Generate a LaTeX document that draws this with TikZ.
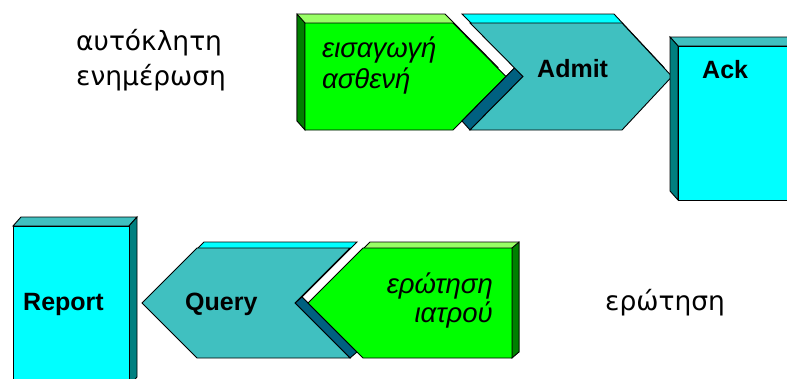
\documentclass[tikz,border=0pt]{standalone}
\usepackage{fontspec}
\setmainfont{Liberation Sans}
\newfontfamily\roundfont{DejaVu Sans}
\usetikzlibrary{calc}

\definecolor{tealface}{RGB}{64,192,192}
\definecolor{tealside}{RGB}{0,128,128}
\definecolor{cyanface}{RGB}{0,255,255}
\definecolor{notchside}{RGB}{0,96,128}
\definecolor{greenface}{RGB}{0,255,0}
\definecolor{greentop}{RGB}{153,255,102}
\definecolor{greenside}{RGB}{0,128,0}

\tikzset{
  face/.style={draw=black, line width=0.9pt, line join=miter},
  boldlabel/.style={inner sep=0pt, font=\fontsize{25}{30}\selectfont\bfseries},
  itlabel/.style={inner sep=0pt, font=\fontsize{27.5}{32}\selectfont\itshape},
  plainlabel/.style={inner sep=0pt, font=\roundfont\fontsize{26.5}{31}\selectfont}
}

\begin{document}
\begin{tikzpicture}[x=1pt, y=-1pt]
    \useasboundingbox (0,0) rectangle (787,378);

    \coordinate (G1) at (305,23);
    \coordinate (T1) at (470,23);
    \coordinate (K) at (678,46);
    \coordinate (R) at (13,226);
    \coordinate (T2) at (197,248);
    \coordinate (G2) at (363,248);

    % Green chevron (top)
    \begin{scope}[shift={(G1)}]
        \draw[face, fill=greentop] (-8,-9) -- (140,-9) -- (193,44.5) -- (140,98) -- (-8,98) -- cycle;
        \draw[face, fill=greenside] (-8,-9) -- (0,0) -- (0,107) -- (-8,98) -- cycle;
        \draw[face, fill=greenface] (0,0) -- (148,0) -- (201,53.5) -- (148,107) -- (0,107) -- cycle;
    \end{scope}

    % Admit chevron
    \begin{scope}[shift={(T1)}]
        \draw[face, fill=cyanface] (-8,-9) -- (144,-9) -- (194,44.5) -- (144,98) -- (-8,98) -- (45,44.5) -- cycle;
        \draw[face, fill=notchside] (53,53.5) -- (0,107) -- (-8,98) -- (45,44.5) -- cycle;
        \draw[face, fill=tealface] (0,0) -- (152,0) -- (202,53.5) -- (152,107) -- (0,107) -- (53,53.5) -- cycle;
    \end{scope}

    % Ack box
    \begin{scope}[shift={(K)}]
        \draw[face, fill=tealface] (-8,-9) -- (116,-9) -- (124,0) -- (0,0) -- cycle;
        \draw[face, fill=tealside] (-8,-9) -- (0,0) -- (0,154) -- (-8,145) -- cycle;
        \draw[face, fill=cyanface] (0,0) rectangle (124,154);
    \end{scope}

    % Report box
    \begin{scope}[shift={(R)}]
        \draw[face, fill=tealface] (0,0) -- (8,-9) -- (124,-9) -- (116,0) -- cycle;
        \draw[face, fill=tealside] (116,0) -- (124,-9) -- (124,151) -- (116,160) -- cycle;
        \draw[face, fill=cyanface] (0,0) rectangle (116,160);
    \end{scope}

    % Query chevron
    \begin{scope}[shift={(T2)}]
        \draw[face, fill=cyanface] (7,-6) -- (160,-6) -- (105,49) -- (160,104) -- (7,104) -- (-48,49) -- cycle;
        \draw[face, fill=notchside] (98,55) -- (153,110) -- (160,104) -- (105,49) -- cycle;
        \draw[face, fill=tealface] (0,0) -- (153,0) -- (98,55) -- (153,110) -- (0,110) -- (-55,55) -- cycle;
    \end{scope}

    % Green chevron (bottom)
    \begin{scope}[shift={(G2)}]
        \draw[face, fill=greentop] (7,-6) -- (156,-6) -- (156,104) -- (7,104) -- (-48,49) -- cycle;
        \draw[face, fill=greenside] (149,0) -- (156,-6) -- (156,104) -- (149,110) -- cycle;
        \draw[face, fill=greenface] (0,0) -- (149,0) -- (149,110) -- (0,110) -- (-55,55) -- cycle;
    \end{scope}

    % Labels
    \node[plainlabel, anchor=base west] (self1) at (76,50) {αυτόκλητη};
    \node[plainlabel, anchor=base west] (self2) at (76,85) {ενημέρωση};

    \node[itlabel, anchor=base west] (admit1) at (322,57) {εισαγωγή};
    \node[itlabel, anchor=base west] (admit2) at (322,88) {ασθενή};

    \node[boldlabel, anchor=base west] (admit) at (537,77) {Admit};
    \node[boldlabel, anchor=base west] (ack) at (702,78) {Ack};

    \node[boldlabel, anchor=base west] (report) at (23,310) {Report};
    \node[boldlabel, anchor=base west] (query) at (185,310) {Query};

    \node[itlabel, anchor=base east] (ask1) at (493,293) {ερώτηση};
    \node[itlabel, anchor=base east] (ask2) at (493,322) {ιατρού};

    \node[plainlabel, anchor=base west] (ask) at (605,310) {ερώτηση};
\end{tikzpicture}
\end{document}
